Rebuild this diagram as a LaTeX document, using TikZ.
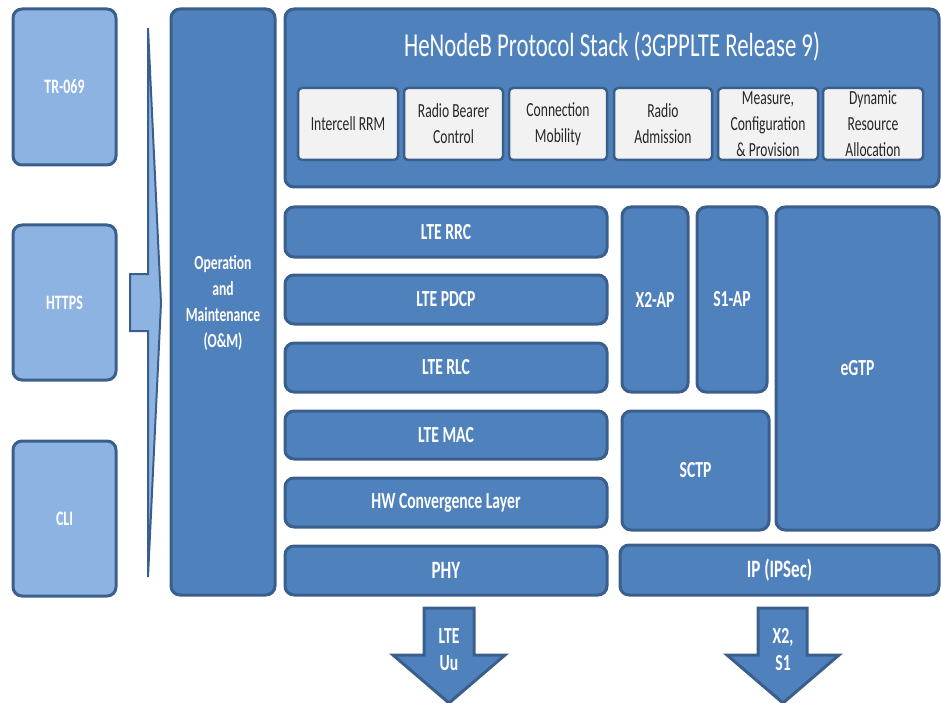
\documentclass[tikz,border=0pt]{standalone}
\usepackage{fontspec}
\setmainfont{Carlito}[FakeStretch=0.68]
\definecolor{mid}{HTML}{4F81BD}
\definecolor{lite}{HTML}{8DB3E2}
\definecolor{bord}{HTML}{3A5F8D}
\definecolor{wht}{HTML}{F2F2F2}
\definecolor{txtdark}{HTML}{262626}
\tikzset{
  base/.style={rounded corners=9pt, line width=3pt, draw=bord, inner sep=0pt, align=center},
  darkbox/.style={base, fill=mid, text=white, font=\bfseries\fontsize{23}{26}\selectfont},
  bigbox/.style={darkbox, font=\bfseries\fontsize{25}{28}\selectfont},
  litebox/.style={base, fill=lite, text=white, font=\bfseries\fontsize{20.5}{26}\selectfont},
  wbox/.style={base, fill=wht, line width=2.5pt, rounded corners=4pt, text=txtdark, font=\fontsize{20}{26}\selectfont},
  arrowshape/.style={fill=mid, draw=bord, line width=3pt, line join=miter},
  leftarrow/.style={fill=lite, draw=bord, line width=2pt, line join=miter},
  arrowtext/.style={text=white, font=\bfseries\fontsize{23}{27}\selectfont, align=center, inner sep=0pt}
}
\newcommand{\bx}[7]{\node[#6, minimum width={(#4-#2)*1pt}, minimum height={(#5-#3)*1pt}] (#1) at ({(#2+#4)/2},{(#3+#5)/2}) {#7};}
\begin{document}
\begin{tikzpicture}[x=1pt, y=-1pt]
\useasboundingbox (0,0) rectangle (941,703);
% left interface boxes
\bx{tr}{13}{9}{116}{165}{litebox}{TR-069}
\bx{https}{13}{225}{116}{380}{litebox}{HTTPS}
\bx{cli}{13}{441}{116}{596}{litebox}{CLI}
% bracket arrow
\draw[leftarrow] (148,28) -- (161,303) -- (148,577) -- (148,331) -- (130,331) -- (130,274) -- (148,274) -- cycle;
% O&M
\bx{om}{171}{9}{275}{595}{darkbox}{}
\node[text=white, font=\bfseries\fontsize{20}{26}\selectfont, align=center, anchor=center] (omtext) at (223,303) {Operation\\and\\Maintenance\\(O\&M)};
% top stack
\bx{stack}{285}{9}{939}{187}{darkbox}{}
\node[text=white, font=\fontsize{33.5}{38}\selectfont] (title) at (612,47) {HeNodeB Protocol Stack (3GPPLTE Release 9)};
\bx{rrm}{298}{88}{398}{160}{wbox}{Intercell RRM}
\bx{rbc}{404}{88}{503}{160}{wbox}{Radio Bearer\\Control}
\bx{cm}{509}{88}{607}{160}{wbox}{Connection\\Mobility}
\bx{ra}{614}{88}{712}{160}{wbox}{Radio\\Admission}
\bx{mcp}{718}{88}{818}{160}{wbox}{Measure,\\Configuration\\\& Provision}
\bx{dra}{823}{88}{923}{160}{wbox}{Dynamic\\Resource\\Allocation}
% LTE stack
\bx{rrc}{285}{207}{607}{257}{darkbox}{LTE RRC}
\bx{pdcp}{285}{275}{607}{324}{darkbox}{LTE PDCP}
\bx{rlc}{285}{343}{607}{392}{darkbox}{LTE RLC}
\bx{mac}{285}{411}{607}{459}{darkbox}{LTE MAC}
\bx{hw}{285}{478}{607}{527}{darkbox}{HW Convergence Layer}
\bx{phy}{285}{546}{607}{595}{bigbox}{PHY}
% IP side
\bx{x2ap}{622}{207}{688}{392}{darkbox}{X2-AP}
\bx{s1ap}{697}{207}{767}{392}{darkbox}{S1-AP}
\bx{egtp}{776}{207}{939}{530}{darkbox}{eGTP}
\bx{sctp}{622}{411}{769}{530}{darkbox}{SCTP}
\bx{ip}{620}{545}{939}{595}{bigbox}{IP (IPSec)}
% down arrows
\draw[arrowshape] (424,608) -- (474,608) -- (474,655) -- (505,655) -- (449,703) -- (393,655) -- (424,655) -- cycle;
\node[arrowtext] (uu) at (449,650) {LTE\\Uu};
\draw[arrowshape] (758,608) -- (807,608) -- (807,655) -- (839,655) -- (783,703) -- (727,655) -- (758,655) -- cycle;
\node[arrowtext] (xs) at (783,650) {X2,\\S1};
\end{tikzpicture}
\end{document}
